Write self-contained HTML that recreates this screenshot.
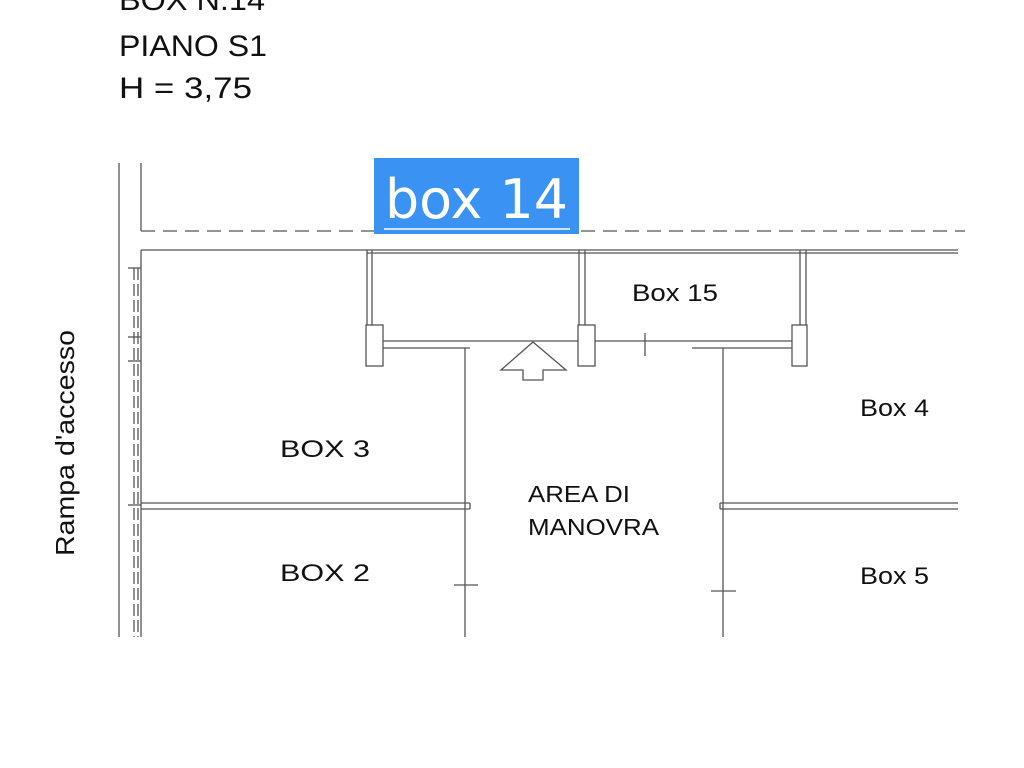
<!DOCTYPE html>
<html><head><meta charset="utf-8"><style>
html,body{margin:0;padding:0;background:#fff;width:1024px;height:768px;overflow:hidden}
svg{display:block}
text{font-family:"Liberation Sans",sans-serif;fill:#111}
</style></head><body>
<svg width="1024" height="768" viewBox="0 0 1024 768">
<text x="119" y="10" font-size="30" textLength="146" lengthAdjust="spacingAndGlyphs">BOX N.14</text>
<text x="119" y="56" font-size="30" textLength="148" lengthAdjust="spacingAndGlyphs">PIANO S1</text>
<text x="119" y="98" font-size="30" textLength="133" lengthAdjust="spacingAndGlyphs">H  = 3,75</text>
<g stroke="#555" stroke-width="1.3" fill="none">
<line x1="119" y1="163" x2="119" y2="637"/>
<line x1="141" y1="163" x2="141" y2="231"/>
<line x1="141" y1="250" x2="141" y2="637"/>
<line x1="141" y1="231" x2="965" y2="231" stroke-dasharray="14,8"/>
<line x1="141" y1="250" x2="958" y2="250"/>
<line x1="367" y1="253" x2="958" y2="253"/>
<line x1="134" y1="268" x2="134" y2="637" stroke-dasharray="12,4"/>
<line x1="138" y1="268" x2="138" y2="637" stroke-dasharray="12,4"/>
<line x1="128" y1="268" x2="141" y2="268"/><line x1="128" y1="337" x2="141" y2="337"/>
<line x1="128" y1="361" x2="141" y2="361"/><line x1="128" y1="505" x2="141" y2="505"/>
<line x1="367" y1="250" x2="367" y2="325"/><line x1="372" y1="250" x2="372" y2="325"/>
<rect x="366" y="325" width="17" height="41"/>
<line x1="383" y1="341" x2="483" y2="341"/><line x1="383" y1="348" x2="470" y2="348"/>
<line x1="579" y1="250" x2="579" y2="325"/><line x1="585" y1="250" x2="585" y2="325"/>
<rect x="578" y="325" width="17" height="41"/>
<line x1="483" y1="341" x2="578" y2="341"/>
<line x1="595" y1="341" x2="792" y2="341"/><line x1="692" y1="348" x2="792" y2="348"/>
<line x1="645" y1="333" x2="645" y2="356"/>
<line x1="800" y1="250" x2="800" y2="325"/><line x1="806" y1="250" x2="806" y2="325"/>
<rect x="792" y="325" width="15" height="41"/>
<line x1="465" y1="348" x2="465" y2="637"/>
<line x1="723" y1="348" x2="723" y2="637"/>
<line x1="141" y1="503" x2="470" y2="503"/><line x1="141" y1="509" x2="470" y2="509"/>
<line x1="470" y1="503" x2="470" y2="509"/>
<line x1="720" y1="503" x2="958" y2="503"/><line x1="720" y1="509" x2="958" y2="509"/>
<line x1="720" y1="503" x2="720" y2="509"/>
<line x1="454" y1="585" x2="478" y2="585"/>
<line x1="711" y1="591" x2="736" y2="591"/>
<polygon points="533,342 566,370 543,370 543,380 523,380 523,370 501,370"/>
</g>
<rect x="374" y="158" width="205" height="76" fill="#3a92f2"/>
<line x1="384" y1="229" x2="570" y2="229" stroke="#cfe4ff" stroke-width="2"/>
<text x="385" y="218" font-size="54" style="fill:#fff;font-family:'DejaVu Sans',sans-serif" textLength="183" lengthAdjust="spacingAndGlyphs">box 14</text>
<text x="632" y="301" font-size="24" textLength="86" lengthAdjust="spacingAndGlyphs">Box 15</text>
<text x="860" y="416" font-size="24" textLength="69" lengthAdjust="spacingAndGlyphs">Box 4</text>
<text x="860" y="584" font-size="24" textLength="69" lengthAdjust="spacingAndGlyphs">Box 5</text>
<text x="280" y="457" font-size="24" textLength="90" lengthAdjust="spacingAndGlyphs">BOX  3</text>
<text x="280" y="581" font-size="24" textLength="90" lengthAdjust="spacingAndGlyphs">BOX  2</text>
<text x="528" y="502" font-size="23" textLength="102" lengthAdjust="spacingAndGlyphs">AREA DI</text>
<text x="528" y="535" font-size="23" textLength="131" lengthAdjust="spacingAndGlyphs">MANOVRA</text>
<text transform="translate(74,556) rotate(-90)" font-size="26" textLength="226" lengthAdjust="spacingAndGlyphs">Rampa d'accesso</text>
</svg>
</body></html>
